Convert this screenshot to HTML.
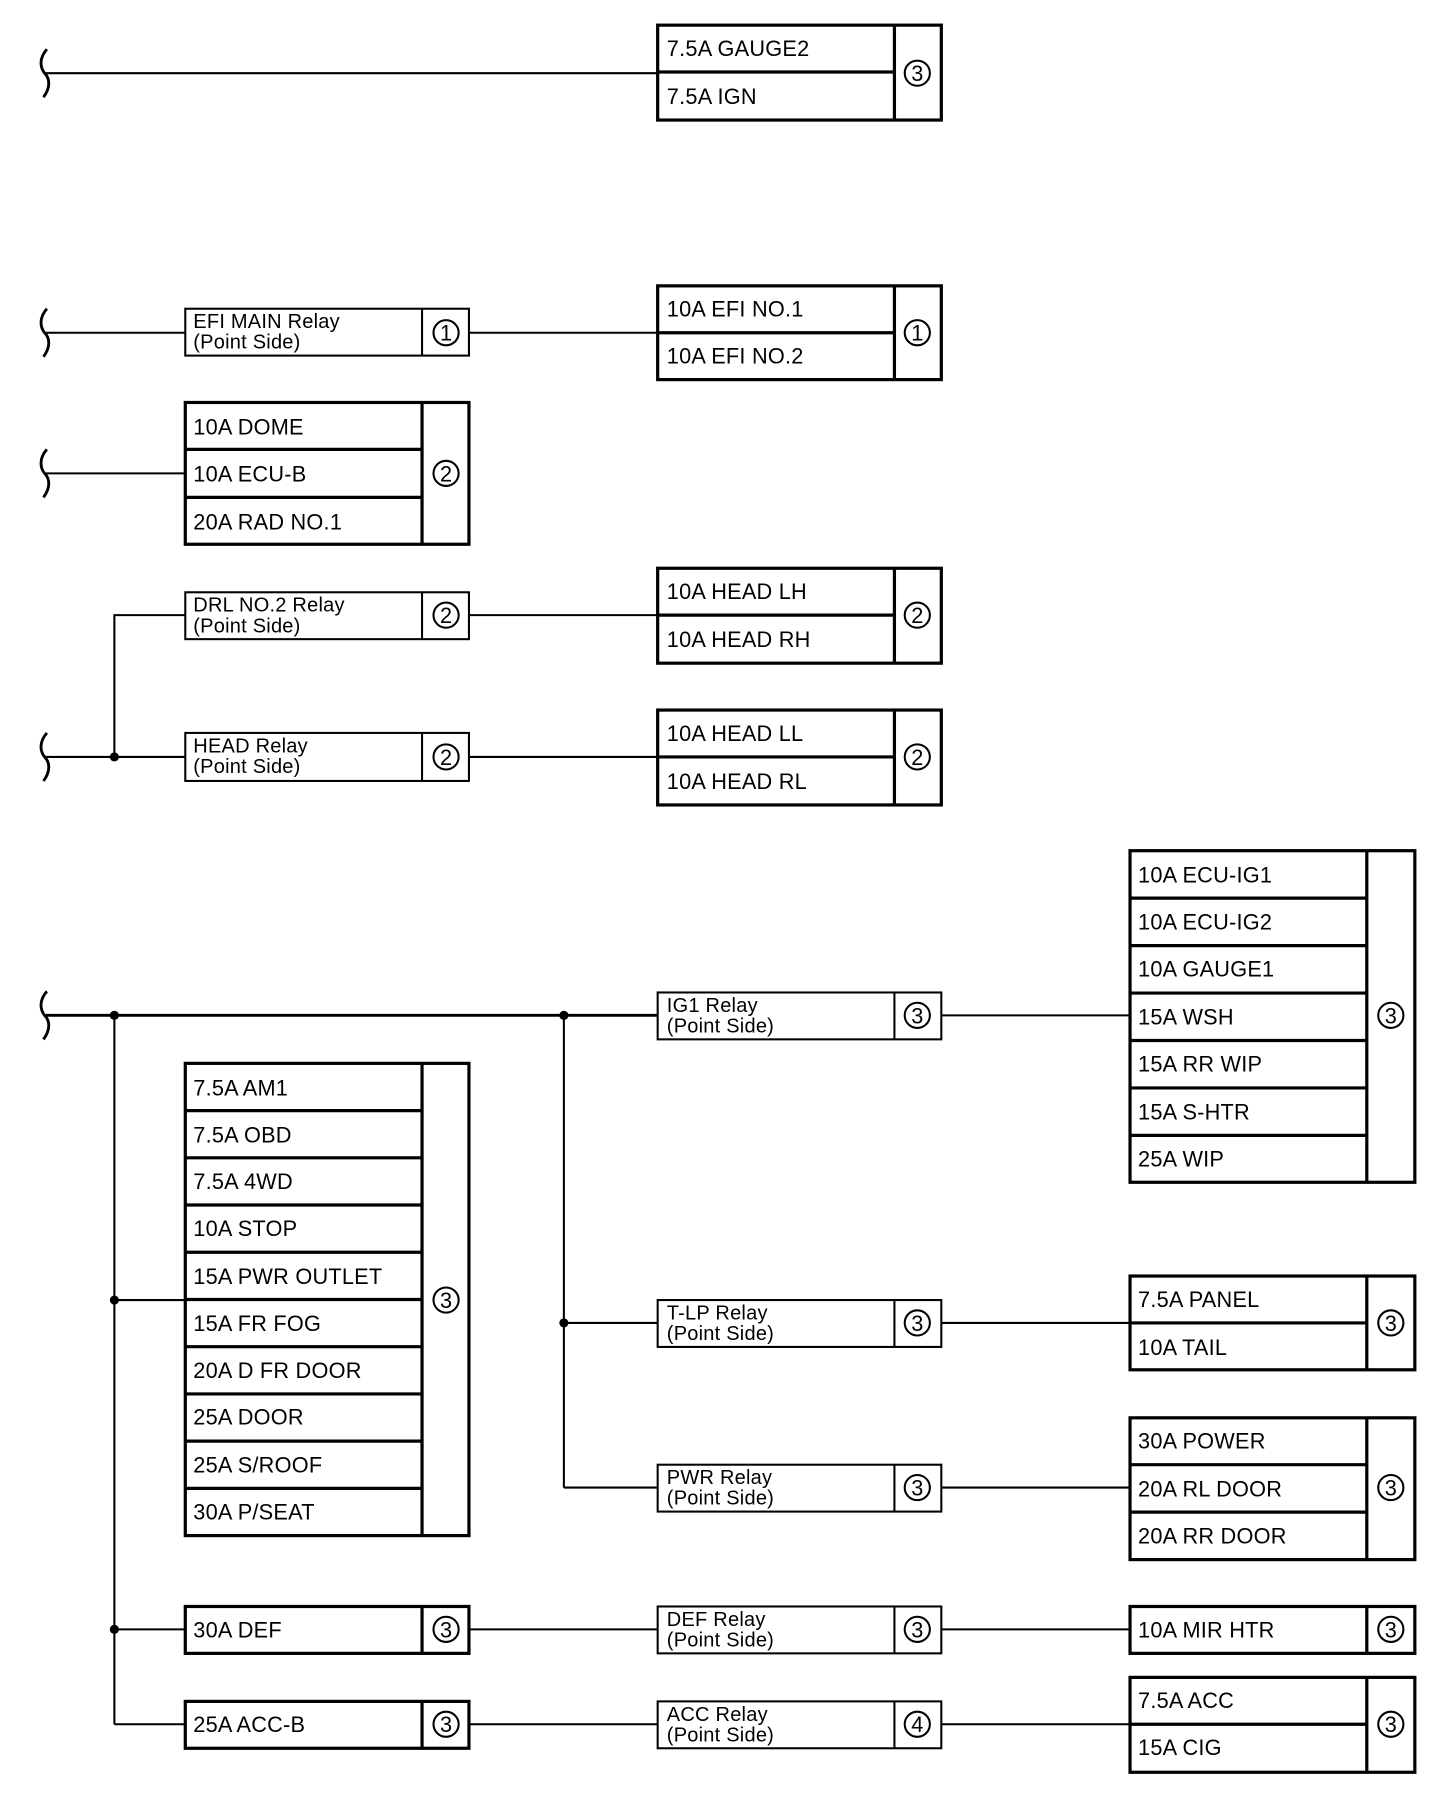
<!DOCTYPE html>
<html><head><meta charset="utf-8"><style>
html,body{margin:0;padding:0;background:#fff;width:1440px;height:1794px;overflow:hidden}
svg{display:block}
text{font-family:"Liberation Sans",Arial,sans-serif;fill:#000}
.f{font-size:19px;letter-spacing:0.2px}
.r{font-size:17.5px;letter-spacing:0.2px}
.c{font-size:19px;text-anchor:middle}
</style></head><body>
<svg width="1440" height="1794" viewBox="0 0 1259 1569" preserveAspectRatio="none" xmlns="http://www.w3.org/2000/svg">
<defs>
<path id="sq" d="M41,-21 C34,-13 35,-5 39,0 C44,5 44,13 38,21" fill="none" stroke="#000" stroke-width="2.5"/>
</defs>
<g stroke="#000" fill="none">
<use href="#sq" y="64"/><use href="#sq" y="291"/><use href="#sq" y="414"/><use href="#sq" y="662"/><use href="#sq" y="888"/>
<g stroke-width="1.8">
<line x1="40" y1="64" x2="575" y2="64"/>
<line x1="40" y1="291" x2="162" y2="291"/><line x1="410" y1="291" x2="575" y2="291"/>
<line x1="40" y1="414" x2="162" y2="414"/>
<line x1="40" y1="662" x2="162" y2="662"/><line x1="410" y1="662" x2="575" y2="662"/>
<polyline points="162,538 100,538 100,662"/><line x1="410" y1="538" x2="575" y2="538"/>
<line x1="40" y1="888" x2="575" y2="888" stroke-width="2.5"/><line x1="823" y1="888" x2="988" y2="888"/>
<line x1="100" y1="888" x2="100" y2="1508"/>
<line x1="100" y1="1508" x2="162" y2="1508"/><line x1="100" y1="1425" x2="162" y2="1425"/><line x1="100" y1="1137" x2="162" y2="1137"/>
<line x1="493" y1="888" x2="493" y2="1301"/>
<line x1="493" y1="1157" x2="575" y2="1157"/><line x1="493" y1="1301" x2="575" y2="1301"/>
<line x1="823" y1="1157" x2="988" y2="1157"/><line x1="823" y1="1301" x2="988" y2="1301"/>
<line x1="410" y1="1425" x2="575" y2="1425"/><line x1="823" y1="1425" x2="988" y2="1425"/>
<line x1="410" y1="1508" x2="575" y2="1508"/><line x1="823" y1="1508" x2="988" y2="1508"/>
</g>
<g stroke-width="2.8">
<rect x="575" y="22" width="248" height="83"/><line x1="782" y1="22" x2="782" y2="105"/><line x1="575" y1="63" x2="782" y2="63"/>
<rect x="575" y="250" width="248" height="82"/><line x1="782" y1="250" x2="782" y2="332"/><line x1="575" y1="291" x2="782" y2="291"/>
<rect x="162" y="352" width="248" height="124"/><line x1="369" y1="352" x2="369" y2="476"/><line x1="162" y1="393" x2="369" y2="393"/><line x1="162" y1="435" x2="369" y2="435"/>
<rect x="575" y="497" width="248" height="83"/><line x1="782" y1="497" x2="782" y2="580"/><line x1="575" y1="538" x2="782" y2="538"/>
<rect x="575" y="621" width="248" height="83"/><line x1="782" y1="621" x2="782" y2="704"/><line x1="575" y1="662" x2="782" y2="662"/>
<rect x="988" y="744" width="249" height="290"/><line x1="1195" y1="744" x2="1195" y2="1034"/>
<line x1="988" y1="785.5" x2="1195" y2="785.5"/><line x1="988" y1="827" x2="1195" y2="827"/><line x1="988" y1="868.5" x2="1195" y2="868.5"/><line x1="988" y1="910" x2="1195" y2="910"/><line x1="988" y1="951.5" x2="1195" y2="951.5"/><line x1="988" y1="993" x2="1195" y2="993"/>
<rect x="162" y="930" width="248" height="413"/><line x1="369" y1="930" x2="369" y2="1343"/>
<line x1="162" y1="971.3" x2="369" y2="971.3"/><line x1="162" y1="1012.6" x2="369" y2="1012.6"/><line x1="162" y1="1053.9" x2="369" y2="1053.9"/><line x1="162" y1="1095.2" x2="369" y2="1095.2"/><line x1="162" y1="1136.5" x2="369" y2="1136.5"/><line x1="162" y1="1177.8" x2="369" y2="1177.8"/><line x1="162" y1="1219.1" x2="369" y2="1219.1"/><line x1="162" y1="1260.4" x2="369" y2="1260.4"/><line x1="162" y1="1301.7" x2="369" y2="1301.7"/>
<rect x="988" y="1116" width="249" height="82"/><line x1="1195" y1="1116" x2="1195" y2="1198"/><line x1="988" y1="1157" x2="1195" y2="1157"/>
<rect x="988" y="1240" width="249" height="124"/><line x1="1195" y1="1240" x2="1195" y2="1364"/><line x1="988" y1="1281" x2="1195" y2="1281"/><line x1="988" y1="1322.5" x2="1195" y2="1322.5"/>
<rect x="162" y="1405" width="248" height="41"/><line x1="369" y1="1405" x2="369" y2="1446"/>
<rect x="988" y="1405" width="249" height="41"/><line x1="1195" y1="1405" x2="1195" y2="1446"/>
<rect x="162" y="1488" width="248" height="41"/><line x1="369" y1="1488" x2="369" y2="1529"/>
<rect x="988" y="1467" width="249" height="83"/><line x1="1195" y1="1467" x2="1195" y2="1550"/><line x1="988" y1="1508" x2="1195" y2="1508"/>
</g>
<g stroke-width="1.8">
<rect x="162" y="270" width="248" height="41"/><line x1="369" y1="270" x2="369" y2="311"/>
<rect x="162" y="518" width="248" height="41"/><line x1="369" y1="518" x2="369" y2="559"/>
<rect x="162" y="641" width="248" height="42"/><line x1="369" y1="641" x2="369" y2="683"/>
<rect x="575" y="868" width="248" height="41"/><line x1="782" y1="868" x2="782" y2="909"/>
<rect x="575" y="1137" width="248" height="41"/><line x1="782" y1="1137" x2="782" y2="1178"/>
<rect x="575" y="1281" width="248" height="41"/><line x1="782" y1="1281" x2="782" y2="1322"/>
<rect x="575" y="1405" width="248" height="41"/><line x1="782" y1="1405" x2="782" y2="1446"/>
<rect x="575" y="1488" width="248" height="41"/><line x1="782" y1="1488" x2="782" y2="1529"/>
</g>
<g stroke-width="1.8">
<circle cx="802" cy="64" r="11"/><circle cx="802" cy="291" r="11"/><circle cx="390" cy="291" r="11"/>
<circle cx="390" cy="414" r="11"/><circle cx="390" cy="538" r="11"/><circle cx="802" cy="538" r="11"/>
<circle cx="390" cy="662" r="11"/><circle cx="802" cy="662" r="11"/>
<circle cx="802" cy="888" r="11"/><circle cx="1216" cy="888" r="11"/><circle cx="390" cy="1137" r="11"/>
<circle cx="802" cy="1157" r="11"/><circle cx="1216" cy="1157" r="11"/>
<circle cx="802" cy="1301" r="11"/><circle cx="1216" cy="1301" r="11"/>
<circle cx="390" cy="1425" r="11"/><circle cx="802" cy="1425" r="11"/><circle cx="1216" cy="1425" r="11"/>
<circle cx="390" cy="1508" r="11"/><circle cx="802" cy="1508" r="11"/><circle cx="1216" cy="1508" r="11"/>
</g>
</g>
<g fill="#000"><circle cx="100" cy="662" r="4"/><circle cx="100" cy="888" r="4"/><circle cx="493" cy="888" r="4"/><circle cx="493" cy="1157" r="4"/><circle cx="100" cy="1137" r="4"/><circle cx="100" cy="1425" r="4"/></g>
<g>
<text class="c" x="802" y="71">3</text><text class="c" x="802" y="298">1</text><text class="c" x="390" y="298">1</text>
<text class="c" x="390" y="421">2</text><text class="c" x="390" y="545">2</text><text class="c" x="802" y="545">2</text>
<text class="c" x="390" y="669">2</text><text class="c" x="802" y="669">2</text>
<text class="c" x="802" y="895">3</text><text class="c" x="1216" y="895">3</text><text class="c" x="390" y="1144">3</text>
<text class="c" x="802" y="1164">3</text><text class="c" x="1216" y="1164">3</text>
<text class="c" x="802" y="1308">3</text><text class="c" x="1216" y="1308">3</text>
<text class="c" x="390" y="1432">3</text><text class="c" x="802" y="1432">3</text><text class="c" x="1216" y="1432">3</text>
<text class="c" x="390" y="1515">3</text><text class="c" x="802" y="1515">4</text><text class="c" x="1216" y="1515">3</text>
</g>
<g>
<text class="f" x="583" y="49">7.5A GAUGE2</text><text class="f" x="583" y="91">7.5A IGN</text>
<text class="f" x="583" y="277">10A EFI NO.1</text><text class="f" x="583" y="318">10A EFI NO.2</text>
<text class="f" x="169" y="380">10A DOME</text><text class="f" x="169" y="421">10A ECU-B</text><text class="f" x="169" y="463">20A RAD NO.1</text>
<text class="f" x="583" y="524">10A HEAD LH</text><text class="f" x="583" y="566">10A HEAD RH</text>
<text class="f" x="583" y="648">10A HEAD LL</text><text class="f" x="583" y="690">10A HEAD RL</text>
<text class="f" x="995" y="772">10A ECU-IG1</text><text class="f" x="995" y="813">10A ECU-IG2</text><text class="f" x="995" y="854">10A GAUGE1</text><text class="f" x="995" y="896">15A WSH</text><text class="f" x="995" y="937">15A RR WIP</text><text class="f" x="995" y="979">15A S-HTR</text><text class="f" x="995" y="1020">25A WIP</text>
<text class="f" x="169" y="958">7.5A AM1</text><text class="f" x="169" y="999">7.5A OBD</text><text class="f" x="169" y="1040">7.5A 4WD</text><text class="f" x="169" y="1081">10A STOP</text><text class="f" x="169" y="1123">15A PWR OUTLET</text><text class="f" x="169" y="1164">15A FR FOG</text><text class="f" x="169" y="1205">20A D FR DOOR</text><text class="f" x="169" y="1246">25A DOOR</text><text class="f" x="169" y="1288">25A S/ROOF</text><text class="f" x="169" y="1329">30A P/SEAT</text>
<text class="f" x="995" y="1143">7.5A PANEL</text><text class="f" x="995" y="1185">10A TAIL</text>
<text class="f" x="995" y="1267">30A POWER</text><text class="f" x="995" y="1309">20A RL DOOR</text><text class="f" x="995" y="1350">20A RR DOOR</text>
<text class="f" x="169" y="1432">30A DEF</text><text class="f" x="995" y="1432">10A MIR HTR</text>
<text class="f" x="169" y="1515">25A ACC-B</text><text class="f" x="995" y="1494">7.5A ACC</text><text class="f" x="995" y="1535">15A CIG</text>
</g>
<g>
<text class="r" x="169" y="287">EFI MAIN Relay</text><text class="r" x="169" y="305">(Point Side)</text>
<text class="r" x="169" y="535">DRL NO.2 Relay</text><text class="r" x="169" y="553">(Point Side)</text>
<text class="r" x="169" y="658">HEAD Relay</text><text class="r" x="169" y="676">(Point Side)</text>
<text class="r" x="583" y="885">IG1 Relay</text><text class="r" x="583" y="903">(Point Side)</text>
<text class="r" x="583" y="1154">T-LP Relay</text><text class="r" x="583" y="1172">(Point Side)</text>
<text class="r" x="583" y="1298">PWR Relay</text><text class="r" x="583" y="1316">(Point Side)</text>
<text class="r" x="583" y="1422">DEF Relay</text><text class="r" x="583" y="1440">(Point Side)</text>
<text class="r" x="583" y="1505">ACC Relay</text><text class="r" x="583" y="1523">(Point Side)</text>
</g>
</svg>
</body></html>
